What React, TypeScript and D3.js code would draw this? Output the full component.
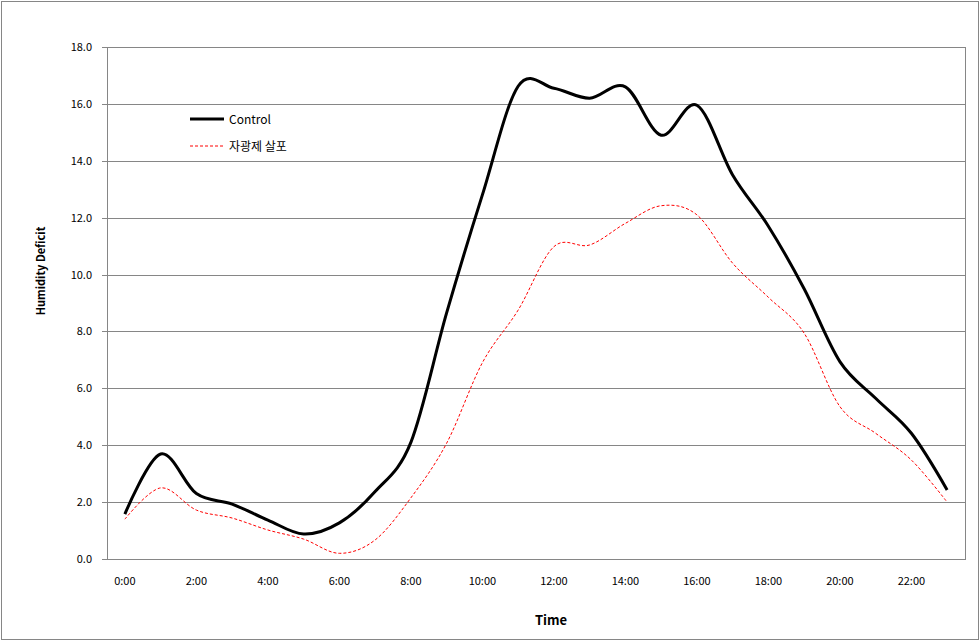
import React from "react";
import * as d3 from "d3";

const hours = d3.range(0, 24);
const xTickLabels = ["0:00", "2:00", "4:00", "6:00", "8:00", "10:00", "12:00", "14:00", "16:00", "18:00", "20:00", "22:00"];
const yTicks = [0, 2, 4, 6, 8, 10, 12, 14, 16, 18];

const controlValues = [1.58, 3.69, 2.3, 1.93, 1.37, 0.88, 1.27, 2.37, 4.1, 8.65, 12.8, 16.62, 16.55, 16.2, 16.6, 14.9, 15.95, 13.5, 11.7, 9.5, 6.94, 5.65, 4.42, 2.43];
const sprayValues = [1.4, 2.5, 1.72, 1.44, 1.02, 0.7, 0.2, 0.67, 2.15, 4.07, 6.9, 8.75, 10.98, 11.04, 11.8, 12.42, 12.1, 10.4, 9.2, 7.94, 5.36, 4.42, 3.48, 2.0];

const seriesNames = ["Control", "자광제 살포"];

const W = 980;
const H = 641;
const left = 107;
const right = 965;
const top = 47;
const bottom = 559;

export default function App() {
  const x = d3.scaleBand<number>().domain(hours).range([left, right]);
  const cx = (h: number) => (x(h) as number) + x.bandwidth() / 2;
  const y = d3.scaleLinear().domain([0, 18]).range([bottom, top]);
  const line = d3
    .line<number>()
    .x((_, i) => cx(hours[i]))
    .y((d) => y(d))
    .curve(d3.curveCardinal.tension(0));

  const font = "'Noto Sans CJK KR', 'DejaVu Sans', sans-serif";
  const grid = "#868686";

  return (
    <div style={{ position: "absolute", left: 0, top: 0 }}>
      <svg width={W} height={H} style={{ display: "block", background: "#fff" }}>
        <rect x={1.5} y={1.5} width={W - 3} height={H - 3} fill="#fff" stroke={grid} strokeWidth={1} />
        {yTicks.map((t) => (
          <g key={t}>
            <line x1={left} x2={right} y1={Math.round(y(t)) + 0.5} y2={Math.round(y(t)) + 0.5} stroke={grid} strokeWidth={1} />
            <line x1={left - 5} x2={left} y1={Math.round(y(t)) + 0.5} y2={Math.round(y(t)) + 0.5} stroke={grid} strokeWidth={1} />
            <text x={92} y={y(t) + 4} textAnchor="end" fontSize={11} fontFamily={font} fill="#000">
              {t.toFixed(1)}
            </text>
          </g>
        ))}
        <rect x={left + 0.5} y={Math.round(top) + 0.5} width={right - left} height={bottom - top} fill="none" stroke={grid} strokeWidth={1} />
        {xTickLabels.map((lab, i) => (
          <text key={lab} x={cx(hours[i * 2])} y={585} textAnchor="middle" fontSize={11} fontFamily={font} fill="#000">
            {lab}
          </text>
        ))}
        <path d={line(sprayValues) || ""} fill="none" stroke="#ff0000" strokeWidth={1} strokeDasharray="3,2" />
        <path d={line(controlValues) || ""} fill="none" stroke="#000" strokeWidth={3} strokeLinejoin="round" />
        <g>
          <line x1={190} x2={224} y1={119} y2={119} stroke="#000" strokeWidth={3} />
          <text x={229} y={123.5} fontSize={12} fontFamily={font} fill="#000">
            {seriesNames[0]}
          </text>
          <line x1={190} x2={224} y1={146} y2={146} stroke="#ff0000" strokeWidth={1} strokeDasharray="3,2" />
          <text x={229} y={151} fontSize={12} fontFamily={font} fill="#000">
            {seriesNames[1]}
          </text>
        </g>
        <text
          transform={`translate(45, 271) rotate(-90)`}
          textAnchor="middle"
          fontSize={11}
          fontWeight="bold"
          fontFamily={font}
          fill="#000"
        >
          Humidity Deficit
        </text>
        <text x={551} y={625} textAnchor="middle" fontSize={13} fontWeight="bold" fontFamily={font} fill="#000">
          Time
        </text>
      </svg>
    </div>
  );
}
